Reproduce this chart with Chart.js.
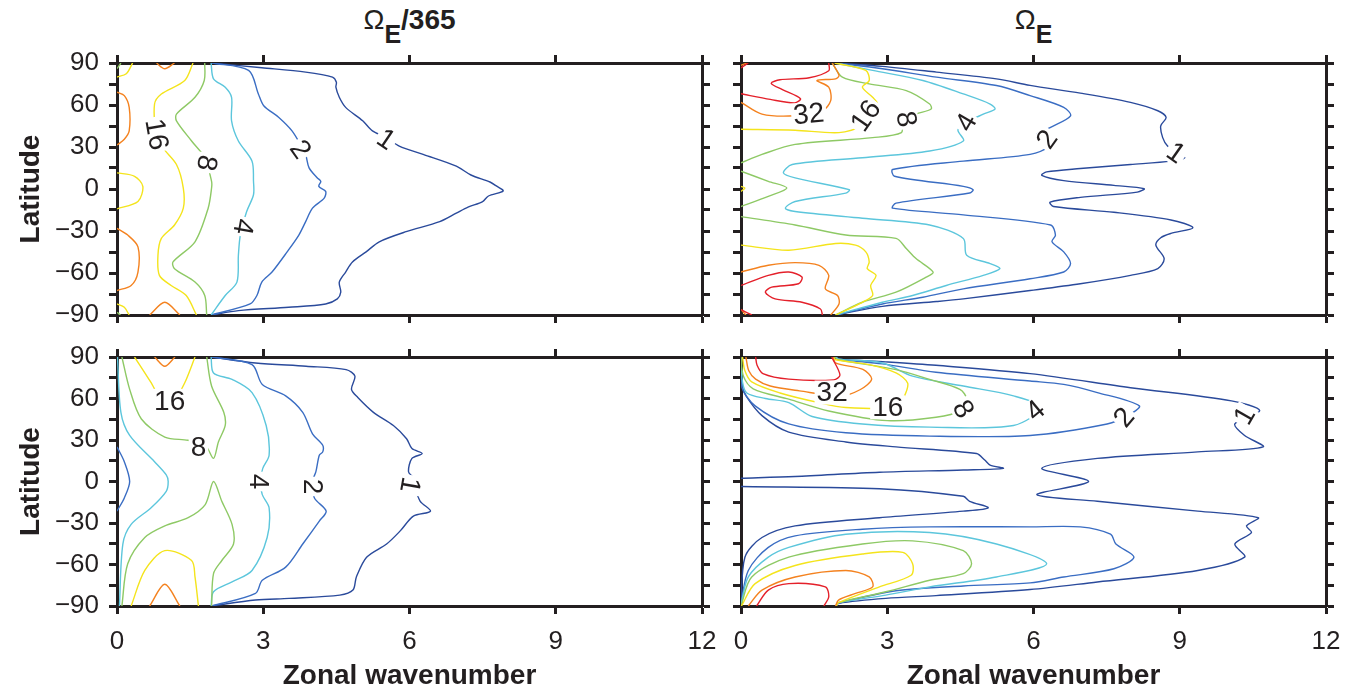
<!DOCTYPE html>
<html>
<head>
<meta charset="utf-8">
<script src="https://cdn.jsdelivr.net/npm/chart.js@4.4.1/dist/chart.umd.min.js"></script>
<style>
  body { margin: 0; background: #fff; width: 1368px; height: 693px; position: relative; overflow: hidden;
         font-family: "Liberation Sans", Arial, sans-serif; color: #231f20; }
  canvas { position: absolute; }
  .ttl { position: absolute; top: 6px; width: 585px; text-align: center; font-size: 28px; line-height: 28px; font-weight: bold; }
  .ttl .om { font-weight: normal; }
  .ttl sub { font-size: 25px; vertical-align: -14px; line-height: 0; }
</style>
</head>
<body>
<div class="ttl" style="left:117px"><span class="om">Ω</span><sub>E</sub>/365</div>
<div class="ttl" style="left:741px"><span class="om">Ω</span><sub>E</sub></div>
<canvas id="tl" width="720" height="300" style="left:0;top:40px"></canvas>
<canvas id="tr" width="648" height="300" style="left:720px;top:40px"></canvas>
<canvas id="bl" width="720" height="353" style="left:0;top:340px"></canvas>
<canvas id="br" width="648" height="353" style="left:720px;top:340px"></canvas>
<script>
// contour pieces as [wavenumber, latitude] pairs, one array per contour level

// top left: Omega_E/365, first row
const tl1 = [[[1.94,90],[2.97,86.6],[3.87,83.5],[4.42,79.9],[4.5,76.3],[4.49,72.7],[4.56,65.5],[4.69,58.3],[5.04,48.7],[5.24,41.5],[5.52,36.7],[5.79,30.7],[6.28,24.7],[6.96,16.3],[7.26,10],[7.65,5],[7.78,2.2],[7.92,-1.4],[7.62,-5],[7.5,-9],[7.2,-13],[6.96,-17.3],[6.62,-23.3],[5.93,-30.5],[5.38,-37.7],[5.11,-44.9],[4.83,-52.1],[4.69,-59.3],[4.56,-66.5],[4.59,-73.7],[4.52,-78.5],[4.28,-82.1],[3.52,-84.5],[2.49,-86.9],[1.94,-90]]];
const tl2 = [[[1.94,90],[2.7,84.7],[2.9,67.9],[3.01,59.5],[3.32,51.1],[3.59,41.5],[3.8,29.5],[3.87,24.7],[3.94,15.1],[4.11,7.9],[4.18,5.5],[4.14,1.9],[4.28,-1.7],[4.25,-6.5],[4.01,-13.7],[3.87,-23.3],[3.73,-32.9],[3.49,-44.9],[3.18,-59.3],[2.97,-66.5],[2.87,-76.1],[2.73,-82.1],[1.94,-90]]];
const tl4 = [[[1.93,90],[1.98,78.7],[2.22,72.7],[2.35,65.5],[2.35,48.7],[2.49,34.3],[2.77,19.9],[2.8,5.5],[2.8,-4.1],[2.66,-16.1],[2.53,-32.9],[2.49,-47.3],[2.46,-66.5],[2.22,-76.1],[1.93,-90]]];
const tl8 = [[[1.8,90],[1.79,77.5],[1.6,65.5],[1.22,53.5],[1.22,48.7],[1.53,34.3],[1.8,22.3],[1.94,5.5],[1.94,0.7],[1.87,-13.7],[1.6,-37.7],[1.15,-52.1],[1.18,-56.9],[1.6,-66.5],[1.8,-76.1],[1.84,-90]],
             [[0,86],[0.08,90]], [[0,-88],[0.07,-90]]];
const tl16 = [[[1.56,90],[1.39,77.5],[0.91,67.9],[0.77,60.7],[0.81,39.1],[0.94,29.5],[1.22,17.5],[1.36,0.7],[1.36,-13.7],[1.18,-25.7],[0.91,-35.3],[0.84,-47.3],[0.87,-61.7],[1.11,-68.9],[1.42,-76.1],[1.63,-90]],
              [[0,80],[0.19,82.3],[0.32,90]], [[0,11.5],[0.36,9.1],[0.53,1.9],[0.43,-8.9],[0,-14.2]], [[0,-82.1],[0.15,-84.5],[0.25,-90]]];
const tl32 = [[[0.81,90],[0.98,85.9],[1.18,90]], [[0,69.1],[0.15,66.7],[0.25,58.3],[0.25,41.5],[0.15,35.5],[0,31.4]],
              [[0,-28.1],[0.22,-32.9],[0.43,-41.3],[0.43,-59.3],[0.29,-68.9],[0,-72.5]], [[0.67,-90],[0.98,-80.9],[1.29,-90]]];
const tlLabels = [['16',0.81,39,80],['8',1.84,18.7,100],['2',3.76,28.3,55],['1',5.52,35.5,34],['4',2.59,-26.9,100]];

// top right: Omega_E, first row
const tr1 = [[[1.94,90],[2.9,87.6],[4.01,83.5],[5.24,78.7],[5.93,74],[6.96,68.5],[7.99,61.9],[8.55,55.9],[8.72,51.1],[8.61,45.1],[8.65,36.7],[8.75,30.7],[8.96,25.9],[9.1,22.3],[8.82,19.9],[7.99,17.5],[6.96,14.6],[6.27,12.2],[6.17,9.8],[6.62,6],[7.65,2.6],[8.27,0.2],[8.13,-2.2],[6.96,-6],[6.34,-9.4],[6.41,-12.5],[7.65,-16.6],[8.82,-22.1],[9.27,-27.6],[8.82,-31.7],[8.61,-34.8],[8.51,-40.1],[8.68,-49.7],[8.55,-56.9],[7.99,-61.7],[6.96,-67.7],[5.93,-72.5],[4.56,-78.5],[4.01,-80.4],[2.9,-83.8],[1.94,-90]]];
const tr2 = [[[1.96,90],[2.9,85.9],[4.01,79.9],[5.24,73.9],[5.93,66.7],[6.62,58.3],[6.76,52.3],[6.34,43.9],[6.07,39.1],[6.41,36.7],[6.34,30.7],[5.93,24.7],[4.56,19.9],[3.11,13.9],[3.15,9.1],[4.56,1.9],[4.76,-0.5],[4.69,-2.9],[3.18,-10.1],[3.11,-13.7],[4.56,-18.5],[6.35,-25.7],[6.45,-32.9],[6.38,-37.7],[6.62,-44.9],[6.76,-53.3],[6.62,-59.3],[5.93,-64.1],[4.56,-71.3],[3.73,-77.3],[2.9,-82.1],[1.96,-90]]];
const tr4 = [[[1.94,90],[2.7,84.7],[3.73,77.5],[4.56,67.9],[5.11,60.7],[5.21,57.1],[4.97,53.5],[4.56,46.3],[4.45,42],[4.56,34.3],[3.87,27.1],[2.49,22.3],[1.05,17.5],[0.87,11.5],[1.11,7.9],[2.22,-0.5],[2.15,-2.9],[1.11,-8.9],[0.91,-13.7],[1.11,-16.1],[2.49,-20.9],[3.87,-25.7],[4.56,-35.3],[4.63,-47.3],[5.11,-53.3],[5.31,-56.9],[4.97,-61.7],[4.21,-68.9],[3.52,-76.1],[2.9,-80.9],[1.94,-90]]];
const tr8 = [[[1.87,90],[2.08,79.9],[2.63,75.1],[3.39,70.3],[3.87,60.7],[3.9,57.1],[3.59,53.5],[3.32,48.7],[3.29,40.3],[2.7,36.7],[1.11,31.9],[0.43,24.7],[0,18.7]],
             [[0,12.7],[0.56,5.5],[0.94,0.7],[0.56,-5.3],[0,-12.5]],
             [[0,-19.7],[1.11,-25.7],[2.15,-32.9],[3.18,-35.3],[3.39,-42.5],[3.59,-49.7],[3.94,-59.3],[3.8,-62.9],[3.18,-73.7],[2.49,-80.9],[1.94,-90]]];
const tr16 = [[[1.92,90],[2.56,84.7],[2.63,77.5],[2.49,72.7],[2.7,65.5],[2.8,60.7],[2.63,51.1],[2.49,45.1],[2.01,40.3],[1.11,42],[0,42.7]],
              [[0,1.9],[0.08,0.7],[0,-1.7]],
              [[0,-40.1],[0.98,-43.7],[1.94,-38.9],[2.35,-40.1],[2.56,-44.9],[2.63,-52.1],[2.59,-56.9],[2.77,-61.7],[2.66,-68.9],[2.7,-76.1],[2.49,-80.9],[1.94,-90]]];
const tr32 = [[[1.87,90],[2.01,81.1],[1.94,78.7],[1.56,77.5],[1.8,72.7],[1.84,63.1],[1.67,55.9],[1.11,52.3],[0.43,53.5],[0,61.9]], [[0,88.3],[0.12,90]],
              [[0,-59.3],[0.56,-54.5],[1.11,-52.6],[1.6,-54.5],[1.8,-61.7],[1.73,-71.3],[1.98,-76.1],[2.01,-82.1],[1.84,-90]], [[0,-86],[0.1,-90]]];
const tr64 = [[[1.8,90],[1.8,84.5],[1.4,79.5],[0.8,78],[0.62,75.5],[0.85,71],[1.22,64.5],[1.1,61.5],[0.6,64],[0,68]], [[0,86.5],[0.15,90]],
              [[0,-68.9],[0.56,-61.7],[0.98,-59.3],[1.25,-62.9],[1.18,-67.7],[0.63,-70.1],[0.5,-73.7],[0.7,-78.5],[1.25,-80.9],[1.63,-85.7],[1.67,-90]], [[0,-86.2],[0.22,-90]]];
const trLabels = [['32',1.39,53.5,-5],['16',2.56,52.3,-55],['8',3.39,49.9,80],['4',4.62,47.5,-60],['2',6.28,35.5,-55],['1',8.92,25.9,35]];

// bottom left: Omega_E/365, second row
const bl1 = [[[1.94,90],[2.84,85.7],[3.88,83.3],[4.7,80.9],[4.88,76.2],[4.81,66.6],[4.94,60.7],[5.26,50],[5.67,40.5],[5.94,30.9],[6.05,23.8],[6.26,20.2],[6.05,16.7],[5.98,7.1],[6.08,2.4],[6.12,-4.8],[6.22,-14.3],[6.43,-21.4],[6.08,-25],[5.81,-35.7],[5.53,-45.2],[5.12,-54.7],[4.91,-69],[4.84,-78.5],[4.57,-82.1],[3.53,-84.5],[2.84,-85.7],[1.94,-90]]];
const bl2 = [[[1.94,90],[2.77,84.5],[2.98,70.2],[3.46,61.9],[3.81,50],[4.01,34.5],[4.22,26.2],[4.22,21.4],[4.15,19],[4.08,7.1],[4.01,0],[4.05,-11.9],[4.29,-21.4],[4.15,-28.6],[3.81,-45.2],[3.46,-61.9],[2.98,-71.4],[2.84,-80.9],[1.94,-90]],
             [[0,25],[0.15,14.3],[0.26,0],[0.15,-11.9],[0,-21.4]]];
const bl4 = [[[1.93,90],[1.98,78.5],[2.36,73.8],[2.77,64.3],[3.06,40.5],[3.12,19],[2.99,9.5],[2.94,0],[2.98,-9.5],[3.12,-19],[3.08,-40.5],[2.77,-64.3],[2.36,-72.6],[1.98,-79.7],[1.93,-90]],
             [[0.01,90],[0.08,50],[0.26,33.3],[0.77,14.3],[1.01,4.8],[1.05,0],[1.01,-7.1],[0.7,-19],[0.29,-31],[0.12,-45.2],[0.05,-90]]];
const bl8 = [[[0.1,90],[0.26,66.6],[0.5,45.2],[0.98,32.1],[1.46,29.8],[1.81,26.2],[1.98,16.7],[2.08,28.6],[2.22,40.5],[2.19,50],[1.94,69],[1.84,90]],
             [[0.1,-90],[0.22,-59.5],[0.57,-40.5],[0.98,-32.1],[1.46,-26.2],[1.81,-16.7],[1.98,0],[2.15,-14.3],[2.36,-31],[2.39,-45.2],[2.15,-57.1],[1.98,-66.6],[1.94,-90]]];
const bl16 = [[[0.36,90],[0.7,71.4],[0.98,54.7],[1.19,59.5],[1.39,71.4],[1.6,90]], [[0.29,-90],[0.57,-64.3],[0.98,-50],[1.53,-57.1],[1.6,-69],[1.67,-90]]];
const bl32 = [[[0.77,90],[0.98,83.3],[1.19,90]], [[0.67,-90],[0.98,-74.3],[1.29,-90]]];
const blLabels = [['16',1.08,58.3,0],['8',1.67,25,0],['4',2.91,0,90],['2',4.01,-3.6,90],['1',6.01,-2.4,100]];

// bottom right: Omega_E, second row
const br1 = [[[1.94,90],[2.0,88.5],[2.97,86.5],[4.0,84],[5.93,78],[7.99,67.8],[10.06,58.3],[10.64,51.2],[10.13,41.7],[10.33,33.3],[10.71,25],[9.37,21.4],[7.31,16.7],[6.17,9.5],[7.13,0],[6.07,-9.5],[7.31,-14.3],[9.37,-21.4],[10.61,-26.2],[10.37,-32.1],[10.47,-36.9],[10.13,-45.2],[10.33,-54.7],[9.37,-64.3],[7.31,-72.6],[5.93,-78.1],[4.0,-82.5],[2.97,-84.5],[2.0,-88],[1.94,-90]],
             [[0,89],[0.02,70],[0.1,62],[0.43,47.6],[0.98,35.7],[2.15,28.6],[3.18,25],[4.83,20.2],[5.0,15.5],[5.11,11.9],[5.38,9.5],[4.56,8.3],[2.84,6.7],[1.11,3.6],[0,2.4]],
             [[0,-3.6],[2.84,-5.2],[4.56,-10.7],[4.69,-14.3],[5.07,-19],[4.56,-21.4],[2.84,-26.2],[1.11,-32.1],[0.43,-40.5],[0.08,-54.7],[0,-89]]];
const br2 = [[[0,88],[0.02,68],[0.29,54.7],[0.98,41.6],[2.15,35.2],[3.87,32.8],[5.93,33.3],[7.51,41.6],[7.93,47.6],[8.17,54.7],[7.31,64.3],[6.62,70.2],[5.93,72.6],[4.0,79],[2.9,85],[2.0,88.5],[1.95,90]],
             [[0,-88],[0.15,-64.3],[0.56,-47.6],[1.11,-39.3],[2.49,-34.5],[3.87,-32.8],[5.93,-32.8],[6.96,-32.8],[7.58,-38.1],[7.69,-45.2],[8.06,-54.7],[7.65,-63.1],[6.62,-69],[5.93,-73.3],[4.56,-75.5],[3.18,-79],[2.0,-88],[1.95,-90]]];
const br4 = [[[0,89],[0.03,72],[0.12,64],[0.5,60],[0.98,57],[1.46,47],[2.49,41.6],[3.87,39.3],[5.59,40.5],[6.17,53.6],[5.59,61.9],[4.56,69],[3.52,76.2],[2.9,85.7],[2.0,88.5],[1.94,90]],
             [[0,-89],[0.15,-69],[0.56,-54.7],[0.98,-47.6],[2.15,-38.1],[3.87,-36.9],[5.24,-45.2],[6.27,-59.5],[5.24,-69],[3.87,-76.2],[2.97,-82.1],[2.0,-87.6],[1.95,-90]]];
const br8 = [[[0,90],[0.05,76],[0.25,67],[0.98,59.5],[1.8,51],[3.0,44],[4.0,46.4],[4.5,51.2],[4.63,59.5],[4.49,66.6],[3.87,73.8],[3.18,80.9],[2.0,88],[1.92,90]],
             [[0,-90],[0.22,-69],[0.98,-54.7],[2.49,-45.2],[3.52,-42.9],[4.56,-50],[4.73,-59.5],[4.56,-66.6],[3.87,-71.4],[2.97,-79.7],[2.0,-87.6],[1.95,-90]]];
const br16 = [[[0.03,90],[0.08,80],[0.22,72],[0.8,64],[1.6,57],[2.15,53.5],[3.2,53.5],[3.33,60],[3.42,71],[3.18,78.5],[2.63,84.5],[1.94,88],[1.9,90]],
              [[0.01,-90],[0.29,-73.8],[1.11,-60.7],[2.49,-52.4],[3.32,-51.2],[3.52,-59.5],[3.49,-67.8],[2.84,-76.2],[2.0,-87.6],[1.95,-90]]];
const br32 = [[[0.1,90],[0.16,80],[0.3,74],[0.6,69],[1.2,65.5],[2.05,62],[2.45,66.5],[2.68,74],[2.5,81],[1.95,85.5],[1.88,90]],
              [[0.15,-90],[0.43,-78.5],[1.11,-69],[2.15,-64.3],[2.63,-69],[2.7,-76.2],[2.35,-80.9],[2.0,-85.7],[1.94,-90]]];
const br64 = [[[0.3,90],[0.33,84],[0.45,78],[0.98,74],[1.9,73.5],[2.03,77],[1.86,90]],
              [[0.32,-90],[0.56,-78.5],[0.98,-73.8],[1.73,-76.2],[1.8,-83.3],[1.7,-90]]];
const brLabels = [['32',1.87,64.3,0],['16',3.01,53.6,0],['8',4.56,52.4,60],['4',6.04,51.2,-40],['2',7.86,46.4,-50],['1',10.33,47.6,-60]];

const xTicks = [0, 3, 6, 9, 12];
const yTicks = [-90, -60, -30, 0, 30, 60, 90];

const FONT = '"Liberation Sans", Arial, sans-serif';
const INK = '#231f20';
const levelColors = {1: '#2a4a9b', 2: '#3a6dc3', 4: '#5cc6dc', 8: '#8ec965', 16: '#f4e41c', 32: '#f4821f', 64: '#e4202a'};

function lines(list, level) {
  return list.map(function(p) {
    return {
      data: p.map(function(q) { return {x: q[0], y: q[1]}; }),
      showLine: true, pointRadius: 0, borderWidth: 1.4, tension: 0.3,
      borderColor: levelColors[level], fill: false
    };
  });
}

// contour labels with a white gap in the line
const labelPlugin = {
  id: 'clabels',
  afterDatasetsDraw: function(chart, args, opts) {
    const ctx = chart.ctx, xs = chart.scales.x, ys = chart.scales.y;
    ctx.save();
    ctx.font = '28px ' + FONT;
    ctx.textAlign = 'center';
    ctx.textBaseline = 'middle';
    (opts.items || []).forEach(function(l) {
      const w = ctx.measureText(l[0]).width;
      ctx.save();
      ctx.translate(xs.getPixelForValue(l[1]), ys.getPixelForValue(l[2]));
      ctx.rotate(l[3] * Math.PI / 180);
      ctx.fillStyle = '#fff';
      ctx.fillRect(-w / 2 - 2, -12, w + 4, 24);
      ctx.fillStyle = INK;
      ctx.fillText(l[0], 0, 1);
      ctx.restore();
    });
    ctx.restore();
  }
};

function fix(size, horiz) {
  return function(s) {
    if (horiz) s.height = size; else s.width = size;
    s.paddingLeft = 0; s.paddingRight = 0; s.paddingTop = 0; s.paddingBottom = 0;
  };
}

function xAxis(pos, showLabels, size) {
  return {
    type: 'linear', position: pos, min: 0, max: 12,
    afterBuildTicks: function(s) { s.ticks = xTicks.map(function(v) { return {value: v}; }); },
    ticks: {autoSkip: false, maxRotation: 0, padding: 12, color: INK, font: {family: FONT, size: 26},
            callback: function(v) { return showLabels ? String(v) : ''; }},
    grid: {drawOnChartArea: false, drawTicks: true, tickLength: 8, tickWidth: 3, tickColor: INK, color: INK},
    border: {display: true, width: 3, color: INK},
    title: {display: showLabels, text: 'Zonal wavenumber', color: INK, padding: {top: 0, bottom: 0},
            font: {family: FONT, size: 28, weight: 'bold'}},
    afterFit: fix(size, true)
  };
}

function yAxis(pos, showLabels, size) {
  return {
    type: 'linear', position: pos, min: -90, max: 90,
    ticks: {stepSize: 15, autoSkip: false, padding: 10, color: INK, font: {family: FONT, size: 26},
            callback: function(v) {
              if (!showLabels || yTicks.indexOf(v) < 0) return '';
              return v < 0 ? '\u2212' + (-v) : String(v);
            }},
    grid: {drawOnChartArea: false, drawTicks: true, tickLength: 8, tickWidth: 3, tickColor: INK, color: INK},
    border: {display: true, width: 3, color: INK},
    title: {display: showLabels, text: 'Latitude', color: INK, padding: {top: 14, bottom: 0},
            font: {family: FONT, size: 28, weight: 'bold'}},
    afterFit: fix(size, false)
  };
}

function panel(id, sets, labels, o) {
  new Chart(document.getElementById(id), {
    type: 'scatter',
    data: {datasets: sets},
    options: {
      animation: false, responsive: false, devicePixelRatio: 1, events: [],
      layout: {padding: 0},
      plugins: {legend: {display: false}, tooltip: {enabled: false}, clabels: {items: labels}},
      scales: {
        x: xAxis('bottom', o.xlab, o.b),
        x2: xAxis('top', false, o.t),
        y: yAxis('left', o.ylab, o.l),
        y2: yAxis('right', false, o.r)
      }
    },
    plugins: [labelPlugin]
  });
}

panel('tl', [].concat(lines(tl32, 32), lines(tl16, 16), lines(tl8, 8), lines(tl4, 4), lines(tl2, 2), lines(tl1, 1)),
      tlLabels, {xlab: false, ylab: true, l: 117, r: 18, t: 23, b: 25});
panel('tr', [].concat(lines(tr64, 64), lines(tr32, 32), lines(tr16, 16), lines(tr8, 8), lines(tr4, 4), lines(tr2, 2), lines(tr1, 1)),
      trLabels, {xlab: false, ylab: false, l: 21, r: 42, t: 23, b: 25});
panel('bl', [].concat(lines(bl32, 32), lines(bl16, 16), lines(bl8, 8), lines(bl4, 4), lines(bl2, 2), lines(bl1, 1)),
      blLabels, {xlab: true, ylab: true, l: 117, r: 18, t: 17, b: 87});
panel('br', [].concat(lines(br64, 64), lines(br32, 32), lines(br16, 16), lines(br8, 8), lines(br4, 4), lines(br2, 2), lines(br1, 1)),
      brLabels, {xlab: true, ylab: false, l: 21, r: 42, t: 17, b: 87});
</script>
</body>
</html>
